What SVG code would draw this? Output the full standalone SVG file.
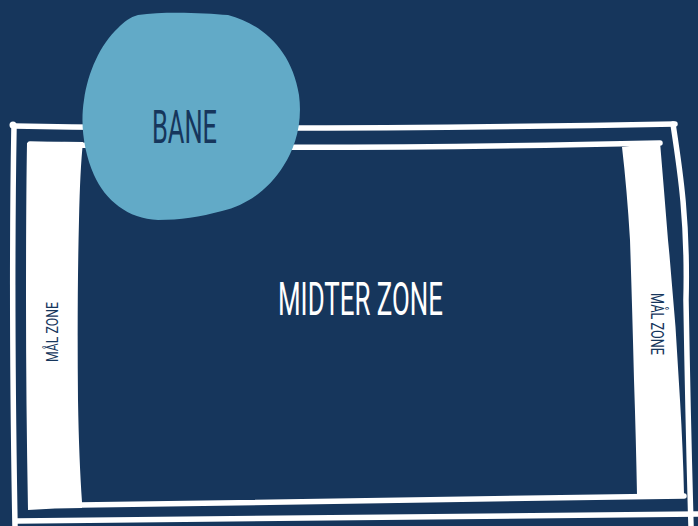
<svg xmlns="http://www.w3.org/2000/svg" width="698" height="526" viewBox="0 0 698 526">
  <style>
    .line { fill: none; stroke: #ffffff; stroke-width: 5.5; stroke-linecap: round; stroke-linejoin: round; }
    .zone { fill: #ffffff; }
    .lbl { font-family: Roboto, "Liberation Sans", sans-serif; font-weight: 400; }
    .dark { fill: #16365c; }
    .light { fill: #ffffff; }
  </style>
  <rect x="0" y="0" width="698" height="526" fill="#16365c"/>
  <g id="field">
    <!-- outer frame -->
    <path class="line" d="M 14,126 Q 300,131 675,124"/>
    <path class="line" d="M 14,126 Q 11,300 15,526"/>
    <path class="line" d="M 673,124 C 680,170 688,220 686,300 Q 688,420 691,526"/>
    <path class="line" d="M 17,521 Q 350,519 698,514"/>
    <circle cx="13" cy="125" r="3.5" fill="#ffffff"/>
    <!-- inner frame -->
    <path class="line" d="M 30,144 Q 300,151 660,143"/>
    <path class="line" d="M 80,505 Q 380,500 684,496"/>
    <!-- goal zones -->
    <path class="zone" d="M 27,143 Q 55,141 83,142 Q 80,170 79,220 Q 77,300 78,400 Q 79,460 82,502 L 82,508 Q 55,508 28,510 Q 26,400 26,300 Q 26,200 27,143 Z"/>
    <path class="zone" d="M 622,147 L 660,142 Q 664,190 668,240 Q 676,320 680,400 Q 683,450 684,494 Q 660,496 637,495 Q 636,440 634,380 Q 632,300 630,240 Q 627,190 622,147 Z"/>
  </g>
  <g id="bane">
    <path fill="#62aac7" d="M 138,15 C 165,11 205,13 228,15 C 262,24 292,50 299,95 C 303,125 294,150 284,165 C 270,188 248,205 222,211 C 200,217 180,220 158,220 C 128,219 105,200 94,175 C 84,152 80,125 84,100 C 88,72 100,45 118,28 C 124,22 130,17 138,15 Z"/>
    <text class="lbl dark" x="152" y="143" font-size="47" textLength="65" lengthAdjust="spacingAndGlyphs">BANE</text>
  </g>
  <g id="midter-zone">
    <text class="lbl light" x="278" y="315" font-size="46" textLength="165" lengthAdjust="spacingAndGlyphs">MIDTER ZONE</text>
  </g>
  <g id="maal-zone-left">
    <text class="lbl dark" transform="translate(58,362) rotate(-90)" x="0" y="0" font-size="17" font-weight="500" textLength="60" lengthAdjust="spacingAndGlyphs">MÅL ZONE</text>
  </g>
  <g id="maal-zone-right">
    <text class="lbl dark" transform="translate(651,293) rotate(90)" x="0" y="0" font-size="18" font-weight="500" textLength="62" lengthAdjust="spacingAndGlyphs">MÅL ZONE</text>
  </g>
</svg>
